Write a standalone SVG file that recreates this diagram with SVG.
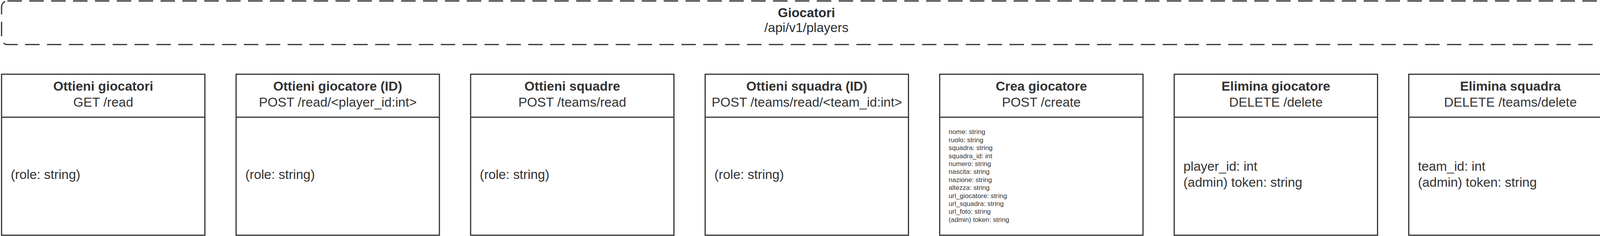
<svg xmlns="http://www.w3.org/2000/svg" width="4129" height="604" viewBox="0 0 4129 604">
<style>
.box{fill:#fff;stroke:#333333;stroke-width:3}
.dash{fill:none;stroke:#2a2d33;stroke-width:3;stroke-dasharray:37 19}
.t{font-family:"Liberation Sans",Arial,sans-serif;fill:#333333}
.h{font-size:33.4px;font-weight:bold;text-anchor:middle}
.s{font-size:33.4px;text-anchor:middle}
.b{font-size:33.4px}
.sm{font-size:17px}
.tt{fill:#2a2d33}
</style>
<rect width="4129" height="604" fill="#ffffff"/>
<g id="api-players">
<rect class="dash" x="4" y="2.5" width="4123" height="111.5" rx="15" ry="15"/>
<text class="t tt h" x="2064.5" y="43.5">Giocatori</text>
<text class="t tt s" x="2064.5" y="82">/api/v1/players</text>
</g>
<g id="node-ottieni-giocatori">
<rect class="box" x="4" y="190" width="520.5" height="412"/>
<line class="box" x1="4" y1="300" x2="524.5" y2="300"/>
<text class="t h" x="264.25" y="231.5">Ottieni giocatori</text>
<text class="t s" x="264.25" y="272.5">GET /read</text>
<text class="t b" x="27.5" y="458">(role: string)</text>
</g>
<g id="node-ottieni-giocatore-id">
<rect class="box" x="604.4" y="190" width="520.5" height="412"/>
<line class="box" x1="604.4" y1="300" x2="1124.9" y2="300"/>
<text class="t h" x="864.65" y="231.5">Ottieni giocatore (ID)</text>
<text class="t s" x="864.65" y="272.5">POST /read/&lt;player_id:int&gt;</text>
<text class="t b" x="627.9" y="458">(role: string)</text>
</g>
<g id="node-ottieni-squadre">
<rect class="box" x="1204.8" y="190" width="520.5" height="412"/>
<line class="box" x1="1204.8" y1="300" x2="1725.3" y2="300"/>
<text class="t h" x="1465.05" y="231.5">Ottieni squadre</text>
<text class="t s" x="1465.05" y="272.5">POST /teams/read</text>
<text class="t b" x="1228.3" y="458">(role: string)</text>
</g>
<g id="node-ottieni-squadra-id">
<rect class="box" x="1805.2" y="190" width="520.5" height="412"/>
<line class="box" x1="1805.2" y1="300" x2="2325.7" y2="300"/>
<text class="t h" x="2065.45" y="231.5">Ottieni squadra (ID)</text>
<text class="t s" x="2065.45" y="272.5">POST /teams/read/&lt;team_id:int&gt;</text>
<text class="t b" x="1828.7" y="458">(role: string)</text>
</g>
<g id="node-crea-giocatore">
<rect class="box" x="2405.6" y="190" width="520.5" height="412"/>
<line class="box" x1="2405.6" y1="300" x2="2926.1" y2="300"/>
<text class="t h" x="2665.85" y="231.5">Crea giocatore</text>
<text class="t s" x="2665.85" y="272.5">POST /create</text>
<text class="t sm" x="2428.6" y="343.3">nome: string</text>
<text class="t sm" x="2428.6" y="363.7">ruolo: string</text>
<text class="t sm" x="2428.6" y="384.1">squadra: string</text>
<text class="t sm" x="2428.6" y="404.5">squadra_id: int</text>
<text class="t sm" x="2428.6" y="424.9">numero: string</text>
<text class="t sm" x="2428.6" y="445.3">nascita: string</text>
<text class="t sm" x="2428.6" y="465.7">nazione: string</text>
<text class="t sm" x="2428.6" y="486.1">altezza: string</text>
<text class="t sm" x="2428.6" y="506.5">url_giocatore: string</text>
<text class="t sm" x="2428.6" y="526.9">url_squadra: string</text>
<text class="t sm" x="2428.6" y="547.3">url_foto: string</text>
<text class="t sm" x="2428.6" y="567.7">(admin) token: string</text>
</g>
<g id="node-elimina-giocatore">
<rect class="box" x="3006" y="190" width="520.5" height="412"/>
<line class="box" x1="3006" y1="300" x2="3526.5" y2="300"/>
<text class="t h" x="3266.25" y="231.5">Elimina giocatore</text>
<text class="t s" x="3266.25" y="272.5">DELETE /delete</text>
<text class="t b" x="3029.5" y="437">player_id: int</text>
<text class="t b" x="3029.5" y="478">(admin) token: string</text>
</g>
<g id="node-elimina-squadra">
<rect class="box" x="3606.4" y="190" width="520.5" height="412"/>
<line class="box" x1="3606.4" y1="300" x2="4126.9" y2="300"/>
<text class="t h" x="3866.65" y="231.5">Elimina squadra</text>
<text class="t s" x="3866.65" y="272.5">DELETE /teams/delete</text>
<text class="t b" x="3629.9" y="437">team_id: int</text>
<text class="t b" x="3629.9" y="478">(admin) token: string</text>
</g>
<g id="connectors"/>
</svg>
